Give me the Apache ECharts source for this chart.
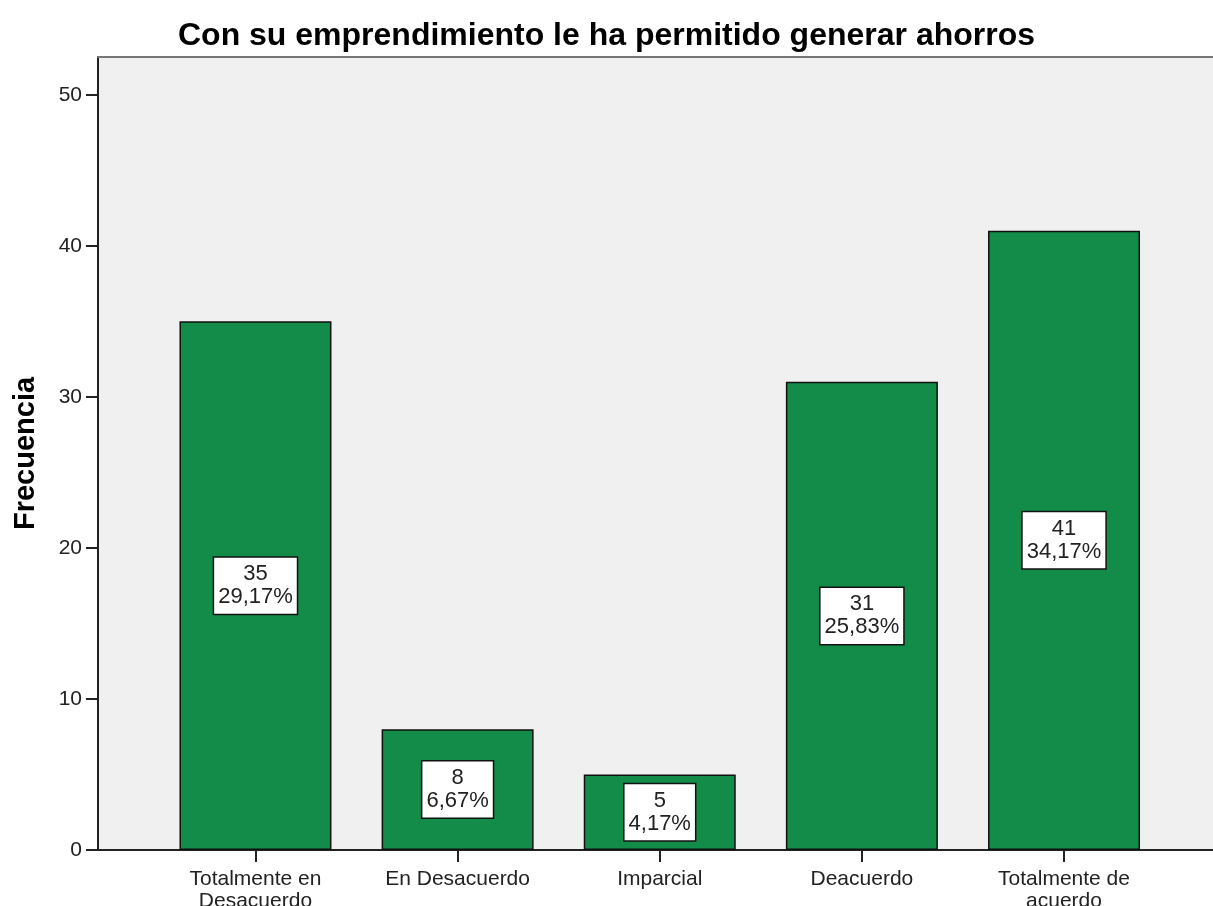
<!DOCTYPE html>
<html>
<head>
<meta charset="utf-8">
<script src="https://cdn.jsdelivr.net/npm/echarts@6/dist/echarts.min.js"></script>
<style>
  html, body { margin: 0; padding: 0; background: #fff; }
  #main { width: 1213px; height: 906px; }
</style>
</head>
<body>
<div id="main"></div>
<script>
// categories, counts and percentage labels
const categories = ['Totalmente en\nDesacuerdo', 'En Desacuerdo', 'Imparcial', 'Deacuerdo', 'Totalmente de\nacuerdo'];
const positions = [1, 2, 3, 4, 5];
const counts = [35, 8, 5, 31, 41];
const percents = ['29,17%', '6,67%', '4,17%', '25,83%', '34,17%'];
const yTicks = [0, 10, 20, 30, 40, 50];

const font = 'Liberation Sans, Arial, sans-serif';
const xMin = 0.221, xMax = 5.737;

document.addEventListener('DOMContentLoaded', function () {
  var myChart = echarts.init(document.getElementById('main'));
  var option = {
    animation: false,
    title: {
      text: 'Con su emprendimiento le ha permitido generar ahorros',
      left: 'center',
      top: 15,
      textStyle: { fontFamily: font, fontSize: 32, fontWeight: 'bold', color: '#000' }
    },
    grid: {
      left: 98, right: 0, top: 57, bottom: 56,
      outerBoundsMode: 'none',
      containLabel: false,
      show: true, backgroundColor: '#f0f0f0', borderWidth: 0
    },
    xAxis: [
      {
        type: 'value',
        min: xMin, max: xMax,
        splitLine: { show: false },
        axisLine: { show: true, lineStyle: { color: '#222', width: 2 } },
        axisTick: { show: true, customValues: positions, length: 12, lineStyle: { color: '#222', width: 2 } },
        axisLabel: {
          customValues: positions,
          margin: 18,
          fontFamily: font, fontSize: 21, lineHeight: 22, color: '#222',
          formatter: function (v) { return categories[Math.round(v) - 1]; }
        }
      },
      {
        type: 'value',
        position: 'top',
        min: xMin, max: xMax,
        splitLine: { show: false },
        axisLine: { show: true, lineStyle: { color: '#777', width: 2 } },
        axisTick: { show: false },
        axisLabel: { show: false }
      }
    ],
    yAxis: {
      type: 'value',
      min: 0, max: 52.5, interval: 10,
      name: 'Frecuencia',
      nameLocation: 'middle',
      nameGap: 58,
      nameMoveOverlap: false,
      nameTextStyle: { fontFamily: font, fontSize: 29, fontWeight: 'bold', color: '#000' },
      splitLine: { show: false },
      axisLine: { show: true, lineStyle: { color: '#222', width: 2 } },
      axisTick: { show: true, customValues: yTicks, length: 12, lineStyle: { color: '#222', width: 2 } },
      axisLabel: {
        customValues: yTicks,
        margin: 16,
        fontFamily: font, fontSize: 21, color: '#222'
      }
    },
    series: [
      {
        type: 'bar',
        xAxisIndex: 0,
        barWidth: 152,
        data: positions.map((p, i) => [p, counts[i]]),
        itemStyle: { color: '#128c48', borderColor: '#111', borderWidth: 1.5 },
        label: {
          show: true,
          position: 'inside',
          formatter: function (p) { return counts[p.dataIndex] + '\n' + percents[p.dataIndex]; },
          fontFamily: font, fontSize: 22, lineHeight: 23, color: '#222',
          align: 'center',
          backgroundColor: '#fff',
          borderColor: '#111', borderWidth: 1.5,
          padding: [5, 4]
        }
      }
    ]
  };
  myChart.setOption(option);
});
</script>
</body>
</html>
